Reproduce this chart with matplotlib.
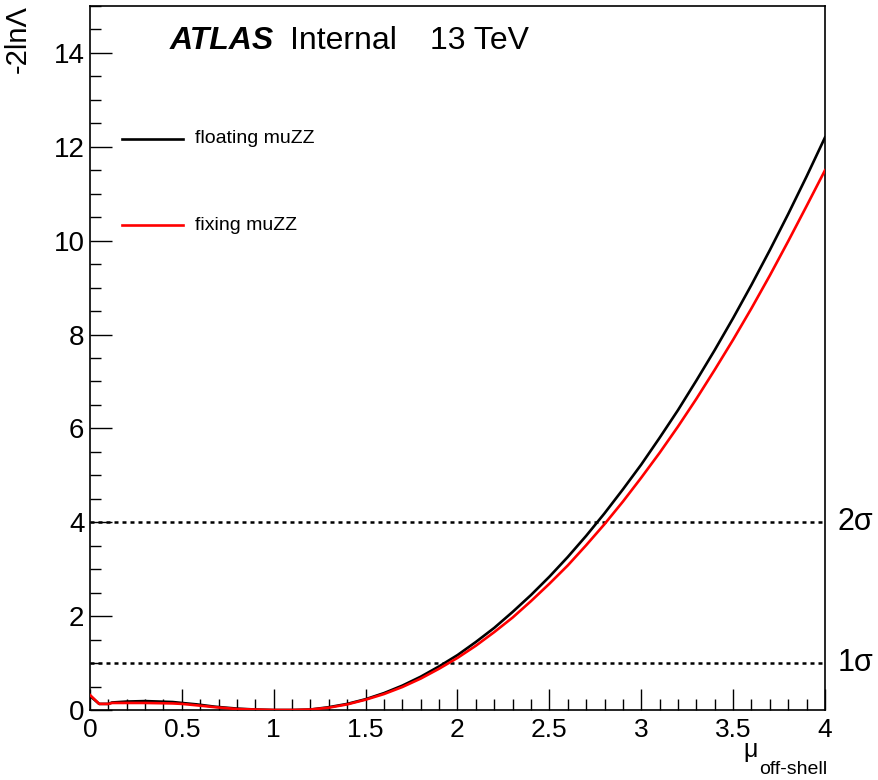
import numpy as np
import matplotlib
matplotlib.use("Agg")
from matplotlib import pyplot as plt
from matplotlib.ticker import MultipleLocator, FuncFormatter

plt.rcParams['font.family'] = ['Liberation Sans', 'DejaVu Sans']

# scan points
mu_low = [0.0, 0.05, 0.1, 0.12, 0.2, 0.3, 0.45, 0.5, 0.58, 0.68, 0.8, 0.9, 1.0, 1.1]
float_low = [0.30, 0.13, 0.13, 0.16, 0.18, 0.19, 0.17, 0.15, 0.12, 0.07, 0.03, 0.01, 0.0, 0.0]
fix_low = [0.32, 0.13, 0.13, 0.15, 0.15, 0.15, 0.14, 0.13, 0.10, 0.06, 0.02, 0.01, 0.0, 0.0]

mu_high = [1.2, 1.3, 1.4, 1.5, 1.6, 1.7, 1.8, 1.9, 2.0, 2.1, 2.2, 2.3, 2.4, 2.5,
           2.6, 2.7, 2.8, 2.9, 3.0, 3.1, 3.2, 3.3, 3.4, 3.5, 3.6, 3.7, 3.8, 3.9, 4.0]
float_high = [0.01, 0.06, 0.13, 0.23, 0.36, 0.52, 0.71, 0.93, 1.17, 1.45, 1.75, 2.09,
              2.45, 2.84, 3.26, 3.71, 4.19, 4.70, 5.23, 5.80, 6.39, 7.02, 7.67, 8.35,
              9.06, 9.80, 10.57, 11.37, 12.2]
fix_high = [0.01, 0.05, 0.12, 0.22, 0.34, 0.49, 0.67, 0.88, 1.11, 1.37, 1.66, 1.97,
            2.32, 2.69, 3.08, 3.51, 3.96, 4.44, 4.95, 5.48, 6.04, 6.63, 7.25, 7.89,
            8.56, 9.26, 9.99, 10.74, 11.5]

mu = mu_low + mu_high
nll_float = float_low + float_high
nll_fix = fix_low + fix_high

sigma_levels = [1, 4]
sigma_labels = ['1σ', '2σ']

fig = plt.figure(figsize=(8.79, 7.8), dpi=100)
ax = fig.add_axes([90 / 879, 70 / 780, 735 / 879, 704 / 780])

ax.plot(mu, nll_float, color='black', lw=1.9, zorder=3)
ax.plot(mu, nll_fix, color='red', lw=1.9, zorder=4)

for lev, lab in zip(sigma_levels, sigma_labels):
    ax.plot([0, 4], [lev, lev], color='black', lw=1.8, ls=(0, (1.6, 1.6)), zorder=2)
    ax.text(4.07, lev, lab, fontsize=22, va='center', ha='left')

ax.set_xlim(0, 4)
ax.set_ylim(0, 15)
ax.xaxis.set_major_locator(MultipleLocator(0.5))
ax.xaxis.set_minor_locator(MultipleLocator(0.1))
ax.yaxis.set_major_locator(MultipleLocator(2))
ax.yaxis.set_minor_locator(MultipleLocator(0.5))
ax.xaxis.set_major_formatter(FuncFormatter(lambda v, p: '%g' % v))
ax.tick_params(which='both', direction='in', top=False, right=False, width=1)
ax.tick_params(which='major', length=16, labelsize=19)
ax.tick_params(axis='x', which='major', length=15, pad=6)
ax.tick_params(which='minor', length=8)
ax.tick_params(axis='y', labelsize=20, pad=4)
for s in ax.spines.values():
    s.set_linewidth(1.2)

# legend drawn by hand like the ROOT TLegend
ax.plot([0.174, 0.506], [12.17, 12.17], color='black', lw=1.9)
ax.text(0.571, 12.17, 'floating muZZ', fontsize=14, va='center')
ax.plot([0.174, 0.506], [10.33, 10.33], color='red', lw=1.9)
ax.text(0.571, 10.33, 'fixing muZZ', fontsize=14, va='center')

ax.text(0.435, 14.25, 'ATLAS', fontsize=23, fontweight='bold', style='italic', va='center')
ax.text(1.088, 14.25, 'Internal', fontsize=23, va='center')
ax.text(1.85, 14.25, '13 TeV', fontsize=23, va='center')

fig.text(0.02, 0.993, '-2lnΛ', rotation=90, fontsize=21, ha='center', va='top')
fig.text(0.846, 0.0295, 'μ', fontsize=18, ha='left', va='baseline')
fig.text(0.864, 0.013, 'off-shell', fontsize=14, ha='left', va='center')

fig.savefig('out.png', dpi=100)
